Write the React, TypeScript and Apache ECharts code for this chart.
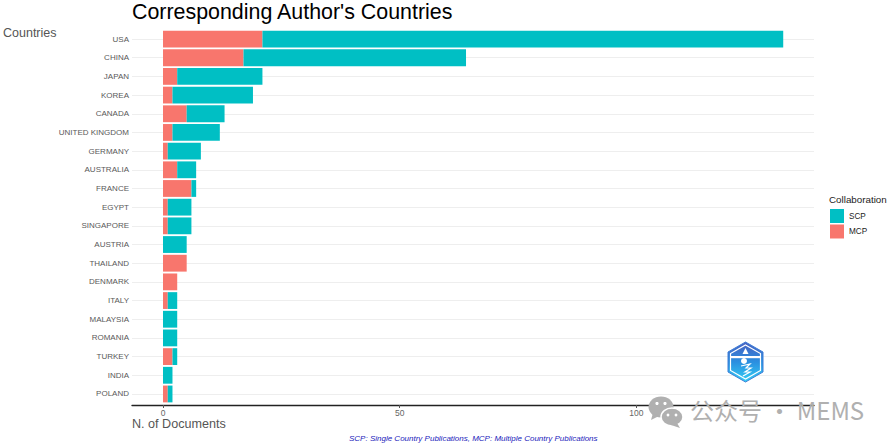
import React, { useEffect, useRef } from "react";
import * as echarts from "echarts";

const countries = ["USA","CHINA","JAPAN","KOREA","CANADA","UNITED KINGDOM","GERMANY","AUSTRALIA","FRANCE","EGYPT","SINGAPORE","AUSTRIA","THAILAND","DENMARK","ITALY","MALAYSIA","ROMANIA","TURKEY","INDIA","POLAND"];
const mcp = [21,17,3,2,5,2,1,3,6,1,1,0,5,3,1,0,0,2,0,1];
const scp = [110,47,18,17,8,10,7,4,1,5,5,5,0,0,2,3,3,1,2,1];
const xTicks = [0,50,100];

const TEAL = "#00BFC4";
const RED = "#F8766D";
const FONT = "Liberation Sans, Arial, sans-serif";
const WM = "#b0b0b0";

export default function App() {
  const ref = useRef<HTMLDivElement>(null);
  useEffect(() => {
    document.body.style.margin = "0";
    const chart = echarts.init(ref.current!, null, { renderer: "svg" });
    const hexGrad = new echarts.graphic.LinearGradient(0, 0, 0, 1, [
      { offset: 0, color: "#4a5fc0" },
      { offset: 0.5, color: "#2a8fe0" },
      { offset: 1, color: "#35d0f5" },
    ]);
    const white = { fill: "#fff" };
    const whiteLine = { stroke: "#fff", lineWidth: 1.2, fill: "none" };
    chart.setOption({
      animation: false,
      backgroundColor: "#fff",
      title: {
        text: "Corresponding Author's Countries",
        left: 127, top: -4,
        textStyle: { fontFamily: FONT, fontSize: 21.4, fontWeight: "normal", color: "#000" },
      },
      legend: {
        orient: "vertical", left: 825, top: 204,
        data: [{ name: "SCP", icon: "rect" }, { name: "MCP", icon: "rect" }],
        itemWidth: 14, itemHeight: 14, itemGap: 1.5,
        textStyle: { fontFamily: FONT, fontSize: 8.2, color: "#222" },
        selectedMode: false,
      },
      grid: { left: 132, right: 76, top: 29.7, height: 373.6, containLabel: false },
      xAxis: {
        type: "value", min: -6.55, max: 137.5, offset: 1.7,
        splitLine: { show: false },
        axisLine: { show: true, onZero: false, lineStyle: { color: "#222", width: 1.4 } },
        axisTick: { show: true, length: 3, customValues: xTicks, lineStyle: { color: "#555" } },
        axisLabel: { customValues: xTicks, fontFamily: FONT, fontSize: 8.5, color: "#666", margin: 3 },
      },
      yAxis: {
        type: "category", inverse: true, data: countries,
        axisLine: { show: false },
        axisTick: { show: true, length: 3, alignWithLabel: true, lineStyle: { color: "#444" } },
        axisLabel: { fontFamily: FONT, fontSize: 8, color: "#595959", margin: 3 },
        splitLine: { show: false },
      },
      series: [
        {
          name: "MCP", type: "bar", stack: "t", data: mcp, barWidth: "90%", itemStyle: { color: RED },
          markLine: {
            silent: true, symbol: "none", z: 1, animation: false,
            label: { show: false },
            lineStyle: { color: "#eeeeee", width: 1, type: "solid" },
            data: countries.map((c) => ({ yAxis: c })),
          },
        },
        { name: "SCP", type: "bar", stack: "t", data: scp, barWidth: "90%", itemStyle: { color: TEAL } },
      ],
      graphic: [
        { type: "text", left: 3, top: 26, z: 10, style: { text: "Countries", fontFamily: FONT, fontSize: 12.5, fill: "#555" } },
        { type: "text", left: 132, top: 417, z: 10, style: { text: "N. of Documents", fontFamily: FONT, fontSize: 12.6, fill: "#555" } },
        { type: "text", left: 829, top: 194, z: 10, style: { text: "Collaboration", fontFamily: FONT, fontSize: 9.8, fill: "#222" } },
        { type: "text", left: 349, top: 434, z: 10, style: { text: "SCP: Single Country Publications, MCP: Multiple Country Publications", fontFamily: FONT, fontSize: 8, fontStyle: "italic", fill: "#2222bb" } },

        { type: "polygon", z: 10, shape: { points: [[745.5,342],[763,352],[763,372],[745.5,382],[728,372],[728,352]] }, style: { fill: hexGrad, stroke: "#3f7fd8", lineWidth: 1 } },
        { type: "polygon", z: 11, shape: { points: [[745.5,345],[760.5,353.5],[760.5,370.5],[745.5,379],[730.5,370.5],[730.5,353.5]] }, style: whiteLine },
        { type: "rect", z: 11, shape: { x: 731, y: 356, width: 29, height: 2.2 }, style: white },
        { type: "polygon", z: 11, shape: { points: [[745.5,348],[748.5,354],[742.5,354]] }, style: white },
        { type: "circle", z: 11, shape: { cx: 744, cy: 361, r: 3 }, style: white },
        { type: "polyline", z: 11, shape: { points: [[741,366],[750,364],[746,368],[751,368],[745,372],[750,372],[743,376]] }, style: whiteLine },

        { type: "ellipse", z: 9, shape: { cx: 661, cy: 407, rx: 12.5, ry: 10.5 }, style: { fill: WM } },
        { type: "polygon", z: 9, shape: { points: [[653,413],[651,420],[659,416]] }, style: { fill: WM } },
        { type: "circle", z: 9, shape: { cx: 657, cy: 403.5, r: 1.6 }, style: white },
        { type: "circle", z: 9, shape: { cx: 665, cy: 403.5, r: 1.6 }, style: white },
        { type: "ellipse", z: 9, shape: { cx: 672, cy: 417, rx: 11, ry: 9 }, style: { fill: WM, stroke: "#fff", lineWidth: 1.5 } },
        { type: "polygon", z: 9, shape: { points: [[677,423],[680,428],[671,425]] }, style: { fill: WM } },
        { type: "circle", z: 9, shape: { cx: 668, cy: 415, r: 1.4 }, style: white },
        { type: "circle", z: 9, shape: { cx: 676, cy: 415, r: 1.4 }, style: white },
        { type: "text", left: 690, top: 397, z: 9, style: { text: "公众号 · MEMS", fontFamily: "Noto Sans CJK SC", fontSize: 24, fill: WM } },
      ],
    });
    return () => chart.dispose();
  }, []);
  return <div ref={ref} style={{ width: 890, height: 448 }} />;
}
